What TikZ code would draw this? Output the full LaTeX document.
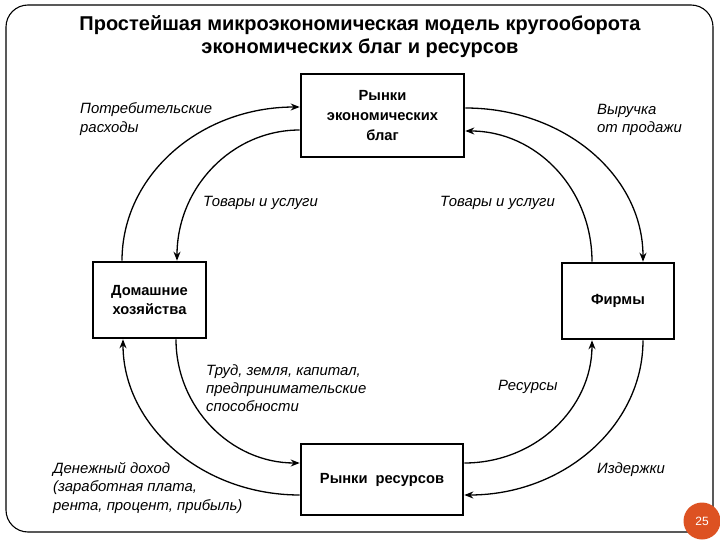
\documentclass[tikz,border=0pt]{standalone}
\usepackage{fontspec}
\setmainfont{Liberation Sans}
\usetikzlibrary{arrows.meta}
\definecolor{badge}{RGB}{221,82,34}
\begin{document}
\begin{tikzpicture}[x=1pt,y=-1pt,
  box/.style={draw, line width=2.6pt, inner sep=0pt, align=center,
    font=\bfseries\fontsize{14.7}{20}\selectfont},
  flow/.style={line width=1.3pt, -{Stealth[length=9pt,width=7pt]}},
  lab/.style={font=\itshape\fontsize{14.9}{18.2}\selectfont, align=left, anchor=west, inner sep=0pt}]
\useasboundingbox (0,0) rectangle (720,540);
\draw[line width=1.1pt, rounded corners=22pt] (6,5) rectangle (713,532);
\node[font=\bfseries\fontsize{20}{23}\selectfont, align=center] (title) at (360,36.5)
  {Простейшая микроэкономическая модель кругооборота\\экономических благ и ресурсов};

\node[box, minimum width=163pt, minimum height=83pt] (T) at (382.5,115.5)
  {Рынки\\экономических\\благ};
\node[box, minimum width=113pt, minimum height=76pt, font=\bfseries\fontsize{14.7}{19}\selectfont] (H) at (149.5,300)
  {Домашние\\хозяйства};
\node[box, minimum width=112pt, minimum height=76pt] (F) at (618,301) {Фирмы};
\node[box, minimum width=162pt, minimum height=71pt] (B) at (382,479.5) {Рынки\ \ ресурсов};

% top-left
\draw[flow] ([xshift=-27.5pt]H.north) .. controls +(0,-86) and +(-99,0) .. ([yshift=8.5pt]T.west);
\draw[flow] ([yshift=-14.5pt]T.west) .. controls +(-68,0) and +(0,-73) .. ([xshift=27.5pt]H.north);
% top-right
\draw[flow] ([yshift=7.5pt]T.east) .. controls +(99,0) and +(0,-86) .. ([xshift=25pt]F.north);
\draw[flow] ([xshift=-26pt]F.north) .. controls +(0,-73) and +(71,0) .. ([yshift=-15.5pt]T.east);
% bottom-left
\draw[flow] ([xshift=26.5pt]H.south) .. controls +(0,68) and +(-69,0) .. ([yshift=16.5pt]B.west);
\draw[flow] ([yshift=-15.5pt]B.west) .. controls +(-98,0) and +(0,86) .. ([xshift=-26.5pt]H.south);
% bottom-right
\draw[flow] ([yshift=16.5pt]B.east) .. controls +(71,0) and +(0,68) .. ([xshift=-26pt]F.south);
\draw[flow] ([xshift=25pt]F.south) .. controls +(0,86) and +(99,0) .. ([yshift=-15.5pt]B.east);

\node[lab] (l1) at (80,119) {Потребительские\\расходы};
\node[lab] (l2) at (203,203) {Товары и услуги};
\node[lab] (l3) at (597,120) {Выручка\\от продажи};
\node[lab] (l4) at (440,203) {Товары и услуги};
\node[lab] (l5) at (206,388) {Труд, земля, капитал,\\предпринимательские\\способности};
\node[lab] (l6) at (498,387) {Ресурсы};
\node[lab] (l7) at (53,488) {Денежный доход\\(заработная плата,\\рента, процент, прибыль)};
\node[lab] (l8) at (597,470) {Издержки};

\fill[badge] (702,521) circle (18.5pt);
\node[text=white, font=\fontsize{12}{14}\selectfont] (pg) at (702,521) {25};
\end{tikzpicture}
\end{document}
